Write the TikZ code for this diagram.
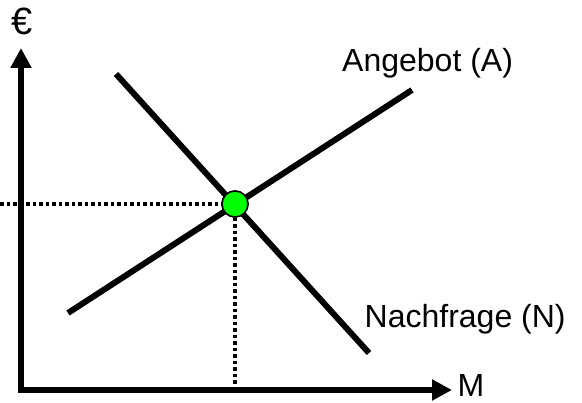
\documentclass[tikz,border=0pt]{standalone}
\usepackage{fontspec}
\setmainfont{Liberation Sans}
\usetikzlibrary{arrows.meta}
\definecolor{eqgreen}{RGB}{0,255,0}
\begin{document}
\begin{tikzpicture}[x=1pt,y=1pt,
  axis/.style={line width=5.5pt,{Triangle[length=20pt,width=20pt]}-{Triangle[length=20pt,width=20pt]}},
  curve/.style={line width=6pt},
  guide/.style={line width=3.5pt,dash pattern=on 3.5pt off 3pt},
  lbl/.style={inner sep=0pt,anchor=base west,font=\fontsize{32}{36}\selectfont},
  eqpt/.style={circle,draw=black,line width=1.5pt,fill=eqgreen,minimum size=26pt,inner sep=0pt}]
\useasboundingbox (0,0) rectangle (582,403);
% coordinates (pixel space, y flipped)
\coordinate (ytip) at (21,355);
\coordinate (corner) at (21,13);
\coordinate (xtip) at (452,13);
\coordinate (s1) at (68,90);
\coordinate (s2) at (412,313);
\coordinate (d1) at (116,329);
\coordinate (d2) at (369,50);
\coordinate (hl) at (0,199);
\coordinate (vb) at (235,13);
% guides
\node[eqpt] (eq) at (235,199) {};
\draw[guide] (hl) -- (eq.west);
\draw[guide] (eq.south) -- (vb);
% axes
\draw[axis] (ytip) -- (corner) -- (xtip);
% curves
\draw[curve] (s1) -- (s2);
\draw[curve] (d1) -- (d2);
\node[eqpt] (eqtop) at (eq) {};
% labels
\node[lbl,font=\fontsize{38}{40}\selectfont] (euro) at (11,368) {€};
\node[lbl] (mlbl) at (457.5,6) {M};
\node[lbl] (angebot) at (342,331) {Angebot (A)};
\node[lbl] (nachfrage) at (364.5,75) {Nachfrage (N)};
\end{tikzpicture}
\end{document}
